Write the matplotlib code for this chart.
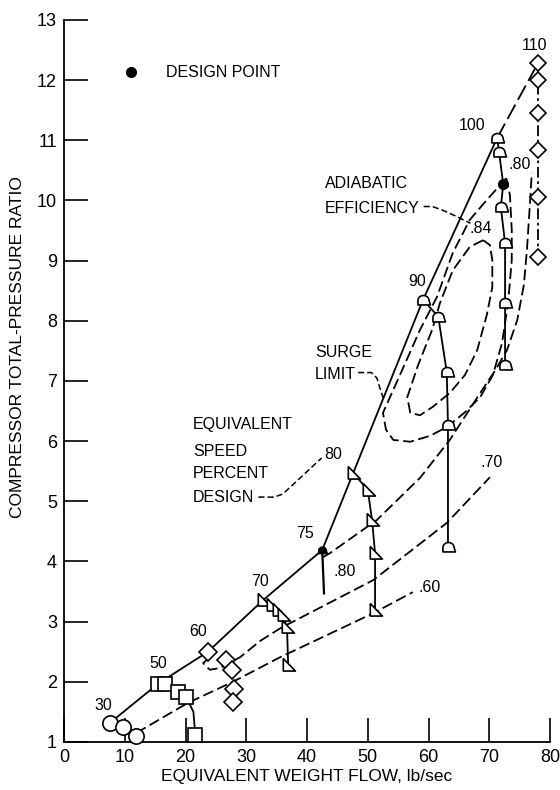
import matplotlib
matplotlib.use("Agg")
import matplotlib.pyplot as plt
import numpy as np

plt.rcParams['font.family'] = ['Liberation Sans', 'DejaVu Sans']

# Speed lines, equivalent weight flow (lb/sec) vs total-pressure ratio
spd30_w = [7.6, 9.7, 11.9]
spd30_pr = [1.32, 1.25, 1.10]
spd50_w = [15.5, 16.6, 18.8, 20.1, 21.6]
spd50_pr = [1.97, 1.97, 1.83, 1.75, 1.12]
spd60_w = [23.7, 26.7, 27.6, 28.0, 27.8]
spd60_pr = [2.50, 2.36, 2.20, 1.88, 1.67]
spd70_w = [32.8, 34.2, 35.2, 36.0, 36.7, 36.9]
spd70_pr = [3.36, 3.28, 3.19, 3.11, 2.91, 2.28]
spd75_w = [42.5, 42.8]
spd75_pr = [4.19, 3.47]
spd80_w = [47.6, 50.0, 50.7, 51.2, 51.2]
spd80_pr = [5.47, 5.19, 4.69, 4.14, 3.19]
spd90_w = [59.1, 61.6, 63.0, 63.2, 63.2]
spd90_pr = [8.35, 8.07, 7.15, 6.27, 4.24]
spd100_w = [71.3, 71.6, 71.9, 72.6, 72.6, 72.6]
spd100_pr = [11.04, 10.81, 9.89, 9.29, 8.30, 7.27]
spd110_w = [78.0, 78.0, 78.0, 78.0, 78.0, 78.0]
spd110_pr = [12.28, 12.00, 11.45, 10.84, 10.06, 9.06]
design_w, design_pr = 72.3, 10.27

# Surge limit
surge_w = [7.6, 15.5, 23.7, 32.8, 42.5, 47.6, 59.1, 71.3]
surge_pr = [1.32, 1.97, 2.50, 3.36, 4.19, 5.47, 8.35, 11.04]
surge_hi_w = [71.3, 78.0]
surge_hi_pr = [11.04, 12.28]

# Adiabatic efficiency contours
eff60_w = [11.9, 20.4, 27.8, 35.6, 50.9, 57.4]
eff60_pr = [1.15, 1.65, 2.00, 2.41, 3.14, 3.49]
eff70_w = [24.0, 22.9, 24.0, 25.7, 29.0, 32.3, 35.6, 50.9, 63.0, 70.1]
eff70_pr = [2.41, 2.31, 2.20, 2.23, 2.41, 2.68, 2.89, 3.69, 4.64, 5.40]
eff80_w = [42.6, 43.8, 51.5, 58.6, 63.5, 68.5, 71.0, 72.9, 74.6, 75.7, 76.2, 76.7, 77.0]
eff80_pr = [4.07, 4.14, 4.69, 5.39, 6.02, 6.80, 7.18, 7.51, 8.01, 8.60, 9.18, 9.96, 10.46]
eff82_w = [72.8, 69.6, 66.8, 64.0, 61.4, 58.6, 55.3, 52.5, 53.0, 54.2, 57.0, 60.3, 63.1,
           66.0, 68.5, 70.6, 72.1, 73.1, 73.7, 73.7, 73.4, 72.8]
eff82_pr = [10.37, 10.01, 9.68, 9.13, 8.40, 7.85, 7.10, 6.47, 6.19, 6.02, 5.99, 6.09, 6.24,
            6.48, 6.73, 7.10, 7.63, 8.30, 9.01, 9.51, 10.09, 10.37]
eff84_w = [69.0, 66.8, 64.0, 61.9, 60.6, 58.3, 56.5, 57.0, 58.6, 60.7, 63.5, 66.0, 68.0,
           69.6, 70.5, 70.5, 70.1, 69.0]
eff84_pr = [9.34, 9.23, 8.84, 8.30, 7.85, 7.27, 6.73, 6.47, 6.43, 6.57, 6.80, 7.10, 7.51,
            8.10, 8.56, 9.01, 9.26, 9.34]

# Speed labels
speed_labels = ['30', '50', '60', '70', '75', '80', '90', '100', '110']
speed_lab_w = [6.4, 15.5, 22.1, 32.3, 39.7, 44.3, 58.1, 67.2, 77.5]
speed_lab_pr = [1.61, 2.31, 2.83, 3.66, 4.47, 5.77, 8.65, 11.25, 12.58]

# Efficiency labels
eff_labels = ['.60', '.70', '.80', '.80', '.84']
eff_lab_w = [58.3, 68.5, 44.3, 73.1, 66.8]
eff_lab_pr = [3.56, 5.65, 3.83, 10.59, 9.54]

# custom marker shapes
theta = np.linspace(0, np.pi, 14)
bell = [(np.cos(t), np.sin(t) * 0.9) for t in theta] + [(-1.0, -0.8), (1.25, -0.8), (1.0, 0.0)]
tri = [(-0.75, 1.0), (-0.75, -0.8), (1.0, -0.8), (-0.75, 1.0)]

fig = plt.figure(figsize=(5.6, 7.9), dpi=100)
ax = fig.add_axes([0.1143, 0.0608, 0.8679, 0.9139])

lw = 1.3
mk = dict(markerfacecolor='white', markeredgecolor='black', markeredgewidth=1.2, zorder=4,
          clip_on=False)

# efficiency contours (dashed)
for w, pr in [(eff60_w, eff60_pr), (eff70_w, eff70_pr), (eff80_w, eff80_pr),
              (eff82_w, eff82_pr), (eff84_w, eff84_pr)]:
    ax.plot(w, pr, color='black', lw=lw, dashes=(6, 2.5), zorder=2)

# surge limit
ax.plot(surge_w, surge_pr, color='black', lw=lw, zorder=3)
ax.plot(surge_hi_w, surge_hi_pr, color='black', lw=lw, dashes=(9, 3), zorder=3)

# speed lines
ax.plot([spd50_w[3], 21.3, spd50_w[4]], [spd50_pr[3], 1.50, spd50_pr[4]],
        color='black', lw=lw, zorder=3)
ax.plot(spd70_w, spd70_pr, color='black', lw=lw, zorder=3)
ax.plot(spd75_w, spd75_pr, color='black', lw=lw + 0.3, zorder=3)
ax.plot(spd80_w, spd80_pr, color='black', lw=lw, zorder=3)
ax.plot(spd90_w, spd90_pr, color='black', lw=lw, zorder=3)
ax.plot(spd100_w[:2] + [design_w] + spd100_w[2:], spd100_pr[:2] + [design_pr] + spd100_pr[2:],
        color='black', lw=lw, zorder=3)
ax.plot(spd110_w, spd110_pr, color='black', lw=lw, dashes=(6, 2, 1.5, 2), zorder=3)

ax.plot(spd30_w, spd30_pr, ls='none', marker='o', markersize=11, **mk)
ax.plot(spd50_w, spd50_pr, ls='none', marker='s', markersize=9.5, **mk)
ax.plot(spd60_w, spd60_pr, ls='none', marker='D', markersize=9.5, **mk)
ax.plot(spd70_w, spd70_pr, ls='none', marker=tri, markersize=10, **mk)
ax.plot(spd80_w, spd80_pr, ls='none', marker=tri, markersize=10, **mk)
ax.plot(spd90_w, spd90_pr, ls='none', marker=bell, markersize=10, **mk)
ax.plot(spd100_w, spd100_pr, ls='none', marker=bell, markersize=10, **mk)
ax.plot(spd110_w, spd110_pr, ls='none', marker='D', markersize=8.5, **mk)
ax.plot([spd75_w[0]], [spd75_pr[0]], ls='none', marker=bell, markersize=7,
        color='black', zorder=4)
ax.plot([design_w], [design_pr], ls='none', marker='o', markersize=7, color='black', zorder=5)

fs = 11.5
for lab, w, pr in zip(speed_labels, speed_lab_w, speed_lab_pr):
    ax.text(w, pr, lab, ha='center', va='center', fontsize=fs)
for lab, w, pr in zip(eff_labels, eff_lab_w, eff_lab_pr):
    ax.text(w, pr, lab, ha='left', va='center', fontsize=fs)

# legend for design point
ax.plot([11.0], [12.13], ls='none', marker='o', markersize=7, color='black', clip_on=False)
ax.text(16.8, 12.13, 'DESIGN POINT', ha='left', va='center', fontsize=fs)

# annotations with leaders
ax.text(43.0, 10.29, 'ADIABATIC', ha='left', va='center', fontsize=fs)
ax.text(43.0, 9.87, 'EFFICIENCY', ha='left', va='center', fontsize=fs)
ax.plot([59.2, 60.6, 62.3, 64.5, 66.9], [9.90, 9.90, 9.84, 9.74, 9.62],
        color='black', lw=1.1, dashes=(4, 2))

ax.text(41.3, 7.48, 'SURGE', ha='left', va='center', fontsize=fs)
ax.text(41.3, 7.10, 'LIMIT', ha='left', va='center', fontsize=fs)
ax.plot([48.4, 50.6, 51.5, 52.0, 52.6], [7.14, 7.14, 7.05, 6.88, 6.70],
        color='black', lw=1.1, dashes=(4, 2))

for i, s in enumerate(['EQUIVALENT', 'SPEED', 'PERCENT', 'DESIGN']):
    ax.text(21.2, 6.27 - [0, 0.45, 0.80, 1.20][i], s, ha='left', va='center', fontsize=fs)
ax.plot([32.0, 34.6, 36.0, 39.0, 42.4], [5.07, 5.07, 5.12, 5.40, 5.72],
        color='black', lw=1.1, dashes=(4, 2))

ax.set_xlim(0, 80)
ax.set_ylim(1, 13)
ax.set_xticks(range(0, 81, 10))
ax.set_yticks(range(1, 14))
ax.spines['top'].set_visible(False)
ax.spines['right'].set_visible(False)
ax.spines['left'].set_linewidth(1.3)
ax.spines['bottom'].set_linewidth(1.3)
ax.tick_params(direction='in', length=17, width=1.2, labelsize=13, pad=5)
ax.set_xlabel('EQUIVALENT WEIGHT FLOW, lb/sec', fontsize=12.5, labelpad=2)
fig.text(18 / 560, 1 - 347 / 790, 'COMPRESSOR TOTAL-PRESSURE RATIO', rotation=90,
         ha='center', va='center', fontsize=12.5)

fig.savefig('out.png', dpi=100)
